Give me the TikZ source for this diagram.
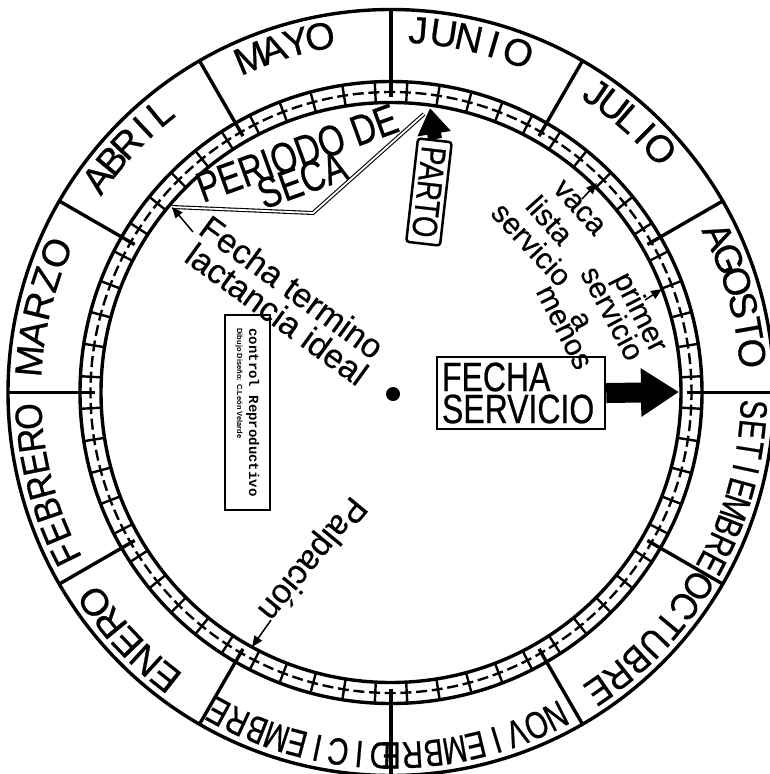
\documentclass[tikz,border=0pt]{standalone}
\usepackage{fontspec}
\setmainfont{Liberation Sans}
\newfontfamily\boldish[FakeBold=0.6]{Liberation Sans}
\newfontfamily\condfont[FakeStretch=0.78,FakeBold=0.6]{Liberation Sans}
\newfontfamily\midfont[FakeStretch=0.9,FakeBold=0.6]{Liberation Sans}
\newfontfamily\narrowfont[FakeStretch=0.76,FakeBold=0.6]{Liberation Sans}
\newfontfamily\lowfam[FakeBold=0.3]{Liberation Sans}
\newfontfamily\monofont{Liberation Mono}
\usetikzlibrary{arrows.meta,calc}
\newcommand\mfont{\boldish\fontsize{38}{38}\selectfont}
\newcommand\mcfont{\midfont\fontsize{38}{38}\selectfont}
\newcommand\mnfont{\narrowfont\fontsize{38}{38}\selectfont}
\newcommand\lowfont{\lowfam\fontsize{34}{34}\selectfont}
\newcommand\smallfont{\lowfam\fontsize{30}{30}\selectfont}
\newcommand\monthword[6]{%
  \foreach \ch [count=\i from 0] in {#5} {%
    \pgfmathsetmacro\ang{#2+(#3-#2)*\i/(#4-1)}%
    \node[monthletter, font=#6, rotate=\ang-90] (#1\i) at ($(C)+(\ang:363)$) {\ch};
  }}
\begin{document}
\begin{tikzpicture}[x=1pt,y=1pt,
  monthletter/.style={inner sep=0pt, anchor=center},
  ring/.style={line width=3.4pt},
  tick/.style={line width=2.4pt},
  smallarrow/.style={line width=1.5pt, -{Triangle[length=11pt,width=9pt]}},
  label/.style={inner sep=0pt}]
\useasboundingbox (0,0) rectangle (770,-774);
\fill[white] (0,0) rectangle (770,-774);
\clip (0,0) rectangle (770,-774);
\coordinate (C) at (391,-392.5);
% rings
\draw[ring] (C) circle[radius=383];
\draw[ring] (C) circle[radius=311];
\draw[ring] (C) circle[radius=290];
\draw[line width=2.4pt, dash pattern=on 11pt off 4.7pt, dash phase=3pt] (C) circle[radius=300.5];
\foreach \a in {0,30,...,330} \draw[ring] ($(C)+(\a:296)$) -- ($(C)+(\a:383)$);
\foreach \a in {3,9,...,357} \draw[tick] ($(C)+(\a:290)$) -- ($(C)+(\a:311)$);
% months
\monthword{jun}{85.7}{69.5}{5}{J,U,N,I,O}{\mfont}
\monthword{may}{112.8}{101.3}{4}{M,A,Y,O}{\mfont}
\monthword{abr}{143.9}{129.5}{5}{A,B,R,I,L}{\mfont}
\monthword{mar}{175}{157.4}{5}{M,A,R,Z,O}{\mfont}
\monthword{feb}{206.4}{183.8}{7}{F,E,B,R,E,R,O}{\mcfont}
\monthword{ene}{231.6}{215.3}{5}{E,N,E,R,O}{\mfont}
\monthword{dic}{268.3}{241.6}{9}{D,I,C,I,E,M,B,R,E}{\mnfont}
\monthword{nov}{297}{270}{9}{N,O,V,I,E,M,B,R,E}{\mnfont}
\monthword{oct}{327.8}{304.9}{7}{O,C,T,U,B,R,E}{\mcfont}
\monthword{set}{357.3}{332}{9}{S,E,T,I,E,M,B,R,E}{\mnfont}
\monthword{ago}{25.5}{6.2}{6}{A,G,O,S,T,O}{\mfont}
\monthword{jul}{55.7}{42.2}{5}{J,U,L,I,O}{\mfont}
% centre dot
\node[circle, fill, inner sep=0pt, minimum size=14pt] (dot) at (393,-394) {};
% fecha servicio
\node[draw, line width=2.5pt, align=left, text width=158pt, inner xsep=5pt, inner ysep=0pt,
  minimum height=72pt, font=\condfont\fontsize{41}{32}\selectfont] (fecha) at (521,-393) {FECHA\\SERVICIO};
\coordinate (servTip) at (679,-392);
\draw[line width=20pt, -{Triangle[length=38pt,width=46pt]}] (fecha.east) -- (servTip);
% parto
\node[draw, line width=2.5pt, rounded corners=3pt, rotate=-96.5, minimum width=104pt,
  minimum height=34pt, inner sep=0pt, font=\condfont\fontsize{35}{35}\selectfont] (parto) at (429,-192) {PARTO};
\coordinate (partoTip) at (430,-108);
\draw[line width=14pt, -{Triangle[length=26pt,width=32pt]}] (parto.west) -- (partoTip);
% periodo de seca
\coordinate (lact) at (172,-207);
\coordinate (secaBend) at (313,-213);
\coordinate (secaEnd) at (424,-114);
\draw[line width=1.1pt, double, double distance=1.8pt] (lact) -- (secaBend) -- (secaEnd);
\node[label, font=\condfont\fontsize{43}{43}\selectfont, rotate=20] (periodo) at (297,-153) {PERIODO DE};
\node[label, font=\condfont\fontsize{43}{43}\selectfont, rotate=20] (seca) at (302,-180) {SECA};
% fecha termino lactancia
\coordinate (lactTail) at (193,-232);
\draw[smallarrow] (lactTail) -- (lact);
\node[label, font=\lowfont, rotate=-36] (termino) at (292,-287) {Fecha termino};
\node[label, font=\lowfont, rotate=-36] (ideal) at (277,-314) {lactancia ideal};
% palpacion
\node[label, font=\lowfont, rotate=-129.5] (palp) at (311,-558) {Palpación};
\coordinate (palpTail) at (271,-620);
\coordinate (palpTip) at (252,-647);
\draw[smallarrow] (palpTail) -- (palpTip);
% vaca lista servicio
\node[label, font=\smallfont, rotate=-48] (vaca) at (579,-208) {vaca};
\node[label, font=\smallfont, rotate=-48] (lista) at (550,-220) {lista};
\node[label, font=\smallfont, rotate=-47] (serv1) at (532,-244) {servicio};
\node[label, font=\smallfont, rotate=-63] (menos) at (563,-328) {menos};
\node[label, font=\smallfont, rotate=-63] (aword) at (580,-321) {a};
\node[label, font=\smallfont, rotate=-62] (serv2) at (613,-313) {servicio};
\node[label, font=\smallfont, rotate=-63] (primer) at (639,-313) {primer};
\coordinate (vacaTail) at (582,-199);
\coordinate (vacaTip) at (597,-183);
\draw[smallarrow] (vacaTail) -- (vacaTip);
\coordinate (primerTail) at (645,-300);
\coordinate (primerTip) at (662,-289);
\draw[smallarrow] (primerTail) -- (primerTip);
% control box
\node[draw, line width=1.5pt, rotate=-90, align=left, minimum width=195pt, minimum height=45pt,
  inner sep=3pt] (ctrl) at (247.5,-412.5)
  {{\monofont\bfseries\fontsize{14}{17}\selectfont control Reproductivo}\\
   {\bfseries\fontsize{7.5}{9}\selectfont Dibujo Diseño: C.León Velarde}};
\end{tikzpicture}
\end{document}
